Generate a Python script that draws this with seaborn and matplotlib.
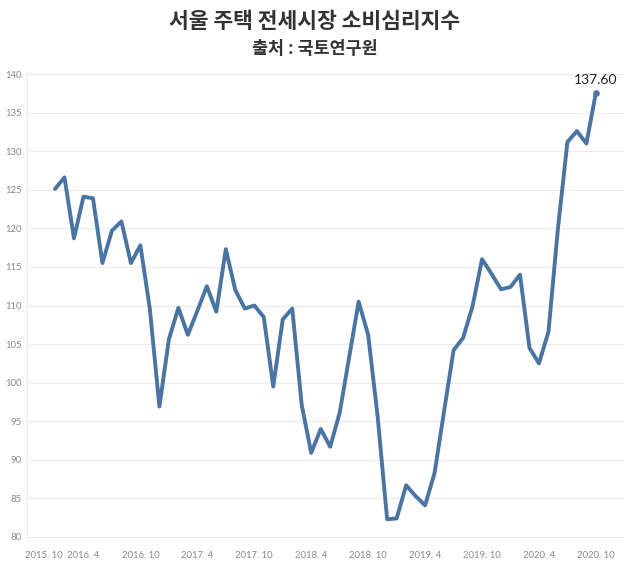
import matplotlib
matplotlib.use("Agg")
import matplotlib.pyplot as plt
import seaborn as sns
import pandas as pd
import numpy as np

# Monthly index, 2016.1 .. 2020.10
values = [125.1, 126.6, 118.7, 124.1, 123.9, 115.5, 119.7, 120.9, 115.5, 117.8,
          109.5, 96.9, 105.6, 109.7, 106.2, 109.3, 112.5, 109.2, 117.3, 112.0,
          109.6, 110.0, 108.5, 99.5, 108.2, 109.6, 97.1, 90.9, 94.0, 91.7,
          96.1, 103.3, 110.5, 106.2, 95.6, 82.3, 82.4, 86.7, 85.3, 84.1,
          88.3, 96.3, 104.2, 105.8, 109.9, 116.0, 114.1, 112.1, 112.4, 114.0,
          104.5, 102.5, 106.6, 120.0, 131.2, 132.6, 131.0, 137.6]
month_idx = list(range(len(values)))
tick_pos = [-1.2, 3, 9, 15, 21, 27, 33, 39, 45, 51, 57]
tick_labels = ["2015. 10", "2016. 4", "2016. 10", "2017. 4", "2017. 10", "2018. 4",
               "2018. 10", "2019. 4", "2019. 10", "2020. 4", "2020. 10"]
y_ticks = list(range(80, 141, 5))
title = "서울 주택 전세시장 소비심리지수"
subtitle = "출처 : 국토연구원"
last_label = "137.60"

df = pd.DataFrame({"m": month_idx, "v": values})

sns.set_theme(style="white")
plt.rcParams['font.family'] = ['Noto Sans CJK KR', 'DejaVu Sans']

fig = plt.figure(figsize=(6.3, 5.69), dpi=100)
ax = fig.add_axes([27/630, 1-539/569, (624-27)/630, (539-72)/569])

color = "#4a74a2"
sns.lineplot(data=df, x="m", y="v", ax=ax, color=color, linewidth=2.8)
ax.scatter([month_idx[-1]], [values[-1]], s=14, color=color, zorder=3)
ax.annotate(last_label, (month_idx[-1], values[-1]), xytext=(0, 5),
            textcoords="offset points", ha="center", va="bottom",
            fontsize=10, color="#222222", family=['Lato', 'DejaVu Sans'])

ax.set_xlim(-2.95, 59.96)
ax.set_ylim(79.74, 140.26)
ax.set_yticks(y_ticks)
ax.set_yticklabels([str(t) for t in y_ticks])
ax.set_xticks(tick_pos)
ax.set_xticklabels(tick_labels)
ax.set_xlabel("")
ax.set_ylabel("")
ax.grid(axis="y", color="#ececec", linewidth=0.8)
ax.grid(axis="x", visible=False)
for s in ["top", "right", "bottom"]:
    ax.spines[s].set_visible(False)
ax.spines["left"].set_color("#ececec")
ax.spines["left"].set_linewidth(0.8)
ax.tick_params(axis="both", length=0, labelsize=6.8, labelcolor="#888888")
ax.tick_params(axis="y", pad=4)
ax.tick_params(axis="x", pad=9)
for lbl in ax.get_xticklabels() + ax.get_yticklabels():
    lbl.set_family(['Lato', 'DejaVu Sans'])

fig.text(0.5, 1-21/569, title, ha="center", va="center", fontsize=15.5,
         fontweight="bold", color="#333333")
fig.text(0.5, 1-49/569, subtitle, ha="center", va="center", fontsize=12.5,
         fontweight="bold", color="#333333")

fig.savefig("out.png", dpi=100, facecolor="white")
